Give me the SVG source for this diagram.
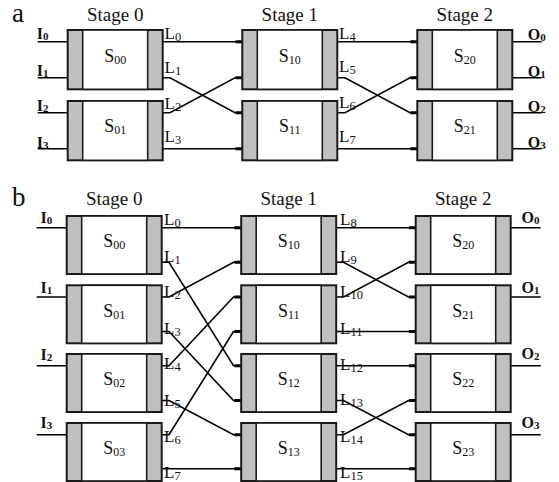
<svg xmlns="http://www.w3.org/2000/svg" xmlns:xlink="http://www.w3.org/1999/xlink" width="559" height="482" viewBox="0 0 559 482">
<style>
text{font-family:'Liberation Serif','Times New Roman',serif;fill:#111}
.fig{font-size:27px}
.stage{font-size:19px;text-anchor:middle}
.s{font-size:18px;text-anchor:middle}
.sub{font-size:12px}
.l{font-size:17px}
.lsub{font-size:12.5px}
.io{font-size:16px;font-weight:bold}
.iosub{font-size:11px;font-weight:bold}
.gray{fill:#c0c0c0;stroke:#1a1a1a;stroke-width:2}
.white{fill:#fff;stroke:#1a1a1a;stroke-width:1.6}
.wire{fill:none;stroke:#000;stroke-width:1.6}
.stub{stroke:#000;stroke-width:3}
</style>
<defs>
<g id="swA"><rect class="gray" x="0" y="0" width="95" height="59.3"/><rect class="white" x="15" y="0" width="65" height="59.3"/></g>
<g id="swB"><rect class="gray" x="0" y="0" width="95" height="58"/><rect class="white" x="15" y="0" width="65" height="58"/></g>
</defs>
<rect width="559" height="482" fill="#fff"/>

<!-- ===== Part a ===== -->
<text class="fig" x="12" y="22">a</text>
<text class="stage" x="115.2" y="21">Stage 0</text>
<text class="stage" x="289.8" y="21">Stage 1</text>
<text class="stage" x="464.8" y="21">Stage 2</text>

<g id="a-connectors">
<path class="wire" d="M37.7 41.7H67.7M37.7 77.7H67.7M37.7 112.7H67.7M37.7 148.7H67.7"/>
<path class="wire" d="M162.7 41.7H242.3M162.7 77.7H170L235 112.7H242.3M162.7 112.7H170L235 77.7H242.3M162.7 148.7H242.3"/>
<path class="wire" d="M337.3 41.7H417.3M337.3 77.7H345L410 112.7H417.3M337.3 112.7H345L410 77.7H417.3M337.3 148.7H417.3"/>
<path class="wire" d="M512.3 41.7H541.7M512.3 77.7H541.7M512.3 112.7H541.7M512.3 148.7H541.7"/>
<path class="stub" d="M235.5 41.7H242.3M235.5 77.7H242.3M235.5 112.7H242.3M235.5 148.7H242.3M410.5 41.7H417.3M410.5 77.7H417.3M410.5 112.7H417.3M410.5 148.7H417.3"/>
</g>

<g id="a-S00"><use xlink:href="#swA" x="67.7" y="30"/><text class="s" x="115.2" y="62">S<tspan class="sub" dy="2">00</tspan></text></g>
<g id="a-S01"><use xlink:href="#swA" x="67.7" y="101"/><text class="s" x="115.2" y="132">S<tspan class="sub" dy="2">01</tspan></text></g>
<g id="a-S10"><use xlink:href="#swA" x="242.3" y="30"/><text class="s" x="289.8" y="62">S<tspan class="sub" dy="2">10</tspan></text></g>
<g id="a-S11"><use xlink:href="#swA" x="242.3" y="101"/><text class="s" x="289.8" y="132">S<tspan class="sub" dy="2">11</tspan></text></g>
<g id="a-S20"><use xlink:href="#swA" x="417.3" y="30"/><text class="s" x="464.8" y="62">S<tspan class="sub" dy="2">20</tspan></text></g>
<g id="a-S21"><use xlink:href="#swA" x="417.3" y="101"/><text class="s" x="464.8" y="132">S<tspan class="sub" dy="2">21</tspan></text></g>

<g id="a-labels">
<text class="io" x="36.7" y="39.3">I<tspan class="iosub" dy="1">0</tspan></text>
<text class="io" x="36.7" y="75.5">I<tspan class="iosub" dy="1">1</tspan></text>
<text class="io" x="36.7" y="111">I<tspan class="iosub" dy="1">2</tspan></text>
<text class="io" x="36.7" y="147.5">I<tspan class="iosub" dy="1">3</tspan></text>
<text class="io" x="527.7" y="40">O<tspan class="iosub" dy="1">0</tspan></text>
<text class="io" x="527.7" y="76.5">O<tspan class="iosub" dy="1">1</tspan></text>
<text class="io" x="527.7" y="111.5">O<tspan class="iosub" dy="1">2</tspan></text>
<text class="io" x="527.7" y="147.5">O<tspan class="iosub" dy="1">3</tspan></text>
<text class="l" x="164.5" y="38.5">L<tspan class="lsub" dy="2">0</tspan></text>
<text class="l" x="164.5" y="73">L<tspan class="lsub" dy="2">1</tspan></text>
<text class="l" x="164.5" y="109">L<tspan class="lsub" dy="2">2</tspan></text>
<text class="l" x="164.5" y="141.7">L<tspan class="lsub" dy="2">3</tspan></text>
<text class="l" x="339" y="39.3">L<tspan class="lsub" dy="2">4</tspan></text>
<text class="l" x="339" y="72">L<tspan class="lsub" dy="2">5</tspan></text>
<text class="l" x="339" y="108">L<tspan class="lsub" dy="2">6</tspan></text>
<text class="l" x="339" y="141.7">L<tspan class="lsub" dy="2">7</tspan></text>
</g>

<!-- ===== Part b ===== -->
<text class="fig" x="12" y="206">b</text>
<text class="stage" x="114.2" y="205">Stage 0</text>
<text class="stage" x="288.7" y="205">Stage 1</text>
<text class="stage" x="463.2" y="205">Stage 2</text>

<g id="b-connectors">
<path class="wire" d="M36.7 227.7H66.7M36.7 297H66.7M36.7 365.7H66.7M36.7 434.7H66.7"/>
<path class="wire" d="M161.7 227.7H241.2M161.7 262.3H169L233.5 365.7H241.2M161.7 297H169L233.5 262.3H241.2M161.7 331.5H169L233.5 400.5H241.2M161.7 365.7H169L233.5 297H241.2M161.7 400.5H169L233.5 434.7H241.2M161.7 434.7H169L233.5 331.5H241.2M161.7 468.7H241.2"/>
<path class="wire" d="M336.2 227.7H415.7M336.2 262.3H343.5L408.5 297H415.7M336.2 297H343.5L408.5 262.3H415.7M336.2 331.5H415.7M336.2 365.7H415.7M336.2 400.5H343.5L408.5 434.7H415.7M336.2 434.7H343.5L408.5 400.5H415.7M336.2 468.7H415.7"/>
<path class="wire" d="M510.7 227.7H540.7M510.7 297H540.7M510.7 365.7H540.7M510.7 434.7H540.7"/>
<path class="stub" d="M234.4 227.7H241.2M234.4 262.3H241.2M234.4 297H241.2M234.4 331.5H241.2M234.4 365.7H241.2M234.4 400.5H241.2M234.4 434.7H241.2M234.4 468.7H241.2M408.9 227.7H415.7M408.9 262.3H415.7M408.9 297H415.7M408.9 331.5H415.7M408.9 365.7H415.7M408.9 400.5H415.7M408.9 434.7H415.7M408.9 468.7H415.7"/>
</g>

<g id="b-S00"><use xlink:href="#swB" x="66.7" y="216"/><text class="s" x="114.2" y="247">S<tspan class="sub" dy="2">00</tspan></text></g>
<g id="b-S01"><use xlink:href="#swB" x="66.7" y="285.3"/><text class="s" x="114.2" y="316.5">S<tspan class="sub" dy="2">01</tspan></text></g>
<g id="b-S02"><use xlink:href="#swB" x="66.7" y="354"/><text class="s" x="114.2" y="385">S<tspan class="sub" dy="2">02</tspan></text></g>
<g id="b-S03"><use xlink:href="#swB" x="66.7" y="423"/><text class="s" x="114.2" y="453.5">S<tspan class="sub" dy="2">03</tspan></text></g>
<g id="b-S10"><use xlink:href="#swB" x="241.2" y="216"/><text class="s" x="288.7" y="247">S<tspan class="sub" dy="2">10</tspan></text></g>
<g id="b-S11"><use xlink:href="#swB" x="241.2" y="285.3"/><text class="s" x="288.7" y="316.5">S<tspan class="sub" dy="2">11</tspan></text></g>
<g id="b-S12"><use xlink:href="#swB" x="241.2" y="354"/><text class="s" x="288.7" y="385">S<tspan class="sub" dy="2">12</tspan></text></g>
<g id="b-S13"><use xlink:href="#swB" x="241.2" y="423"/><text class="s" x="288.7" y="453.5">S<tspan class="sub" dy="2">13</tspan></text></g>
<g id="b-S20"><use xlink:href="#swB" x="415.7" y="216"/><text class="s" x="463.2" y="247">S<tspan class="sub" dy="2">20</tspan></text></g>
<g id="b-S21"><use xlink:href="#swB" x="415.7" y="285.3"/><text class="s" x="463.2" y="316.5">S<tspan class="sub" dy="2">21</tspan></text></g>
<g id="b-S22"><use xlink:href="#swB" x="415.7" y="354"/><text class="s" x="463.2" y="385">S<tspan class="sub" dy="2">22</tspan></text></g>
<g id="b-S23"><use xlink:href="#swB" x="415.7" y="423"/><text class="s" x="463.2" y="453.5">S<tspan class="sub" dy="2">23</tspan></text></g>

<g id="b-labels">
<text class="io" x="40.5" y="223">I<tspan class="iosub" dy="1">0</tspan></text>
<text class="io" x="40.5" y="293">I<tspan class="iosub" dy="1">1</tspan></text>
<text class="io" x="40.5" y="359.5">I<tspan class="iosub" dy="1">2</tspan></text>
<text class="io" x="40.5" y="428">I<tspan class="iosub" dy="1">3</tspan></text>
<text class="io" x="521.5" y="223">O<tspan class="iosub" dy="1">0</tspan></text>
<text class="io" x="521.5" y="293">O<tspan class="iosub" dy="1">1</tspan></text>
<text class="io" x="521.5" y="358.5">O<tspan class="iosub" dy="1">2</tspan></text>
<text class="io" x="521.5" y="428">O<tspan class="iosub" dy="1">3</tspan></text>
<text class="l" x="164" y="225">L<tspan class="lsub" dy="2">0</tspan></text>
<text class="l" x="164" y="261.5">L<tspan class="lsub" dy="2">1</tspan></text>
<text class="l" x="164" y="296.7">L<tspan class="lsub" dy="2">2</tspan></text>
<text class="l" x="164" y="334">L<tspan class="lsub" dy="2">3</tspan></text>
<text class="l" x="164" y="368.5">L<tspan class="lsub" dy="2">4</tspan></text>
<text class="l" x="164" y="405.5">L<tspan class="lsub" dy="2">5</tspan></text>
<text class="l" x="164" y="441.5">L<tspan class="lsub" dy="2">6</tspan></text>
<text class="l" x="164" y="478">L<tspan class="lsub" dy="2">7</tspan></text>
<text class="l" x="340" y="225">L<tspan class="lsub" dy="2">8</tspan></text>
<text class="l" x="340" y="261.5">L<tspan class="lsub" dy="2">9</tspan></text>
<text class="l" x="340" y="296.7">L<tspan class="lsub" dy="2">10</tspan></text>
<text class="l" x="340" y="333.5">L<tspan class="lsub" dy="2">11</tspan></text>
<text class="l" x="340" y="370">L<tspan class="lsub" dy="2">12</tspan></text>
<text class="l" x="340" y="405">L<tspan class="lsub" dy="2">13</tspan></text>
<text class="l" x="340" y="441.5">L<tspan class="lsub" dy="2">14</tspan></text>
<text class="l" x="340" y="478">L<tspan class="lsub" dy="2">15</tspan></text>
</g>
</svg>
